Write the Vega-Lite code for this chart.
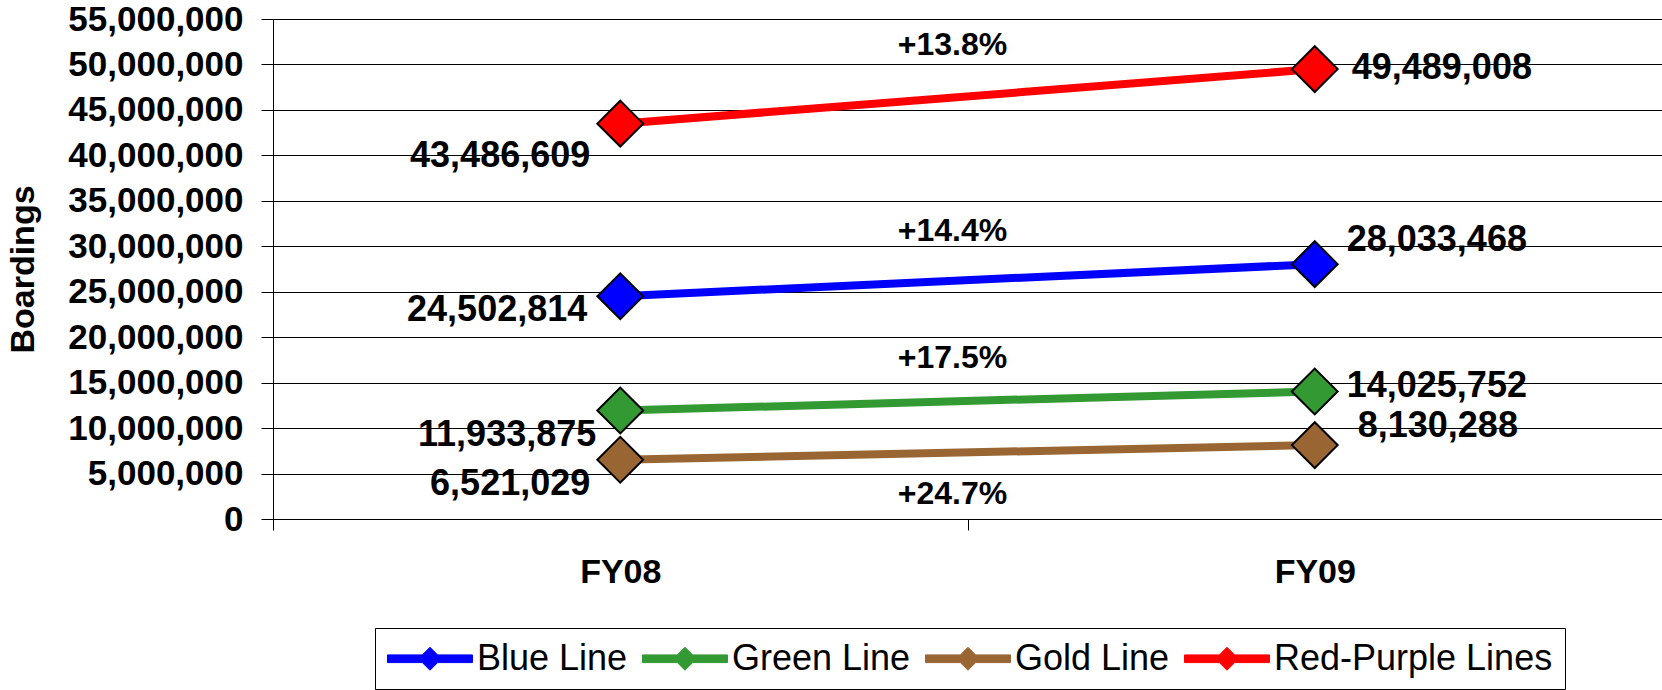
{
  "$schema": "https://vega.github.io/schema/vega-lite/v6.json",
  "width": 1389,
  "height": 500,
  "autosize": "none",
  "padding": {"left": 273, "top": 19, "right": 0, "bottom": 171},
  "config": {
    "font": "Liberation Sans",
    "view": {"stroke": null},
    "background": "white"
  },
  "data": {
    "values": [
      {"line": "Blue Line", "year": "FY08", "boardings": 24502814, "change": "+14.4%"},
      {"line": "Blue Line", "year": "FY09", "boardings": 28033468, "change": "+14.4%"},
      {"line": "Green Line", "year": "FY08", "boardings": 11933875, "change": "+17.5%"},
      {"line": "Green Line", "year": "FY09", "boardings": 14025752, "change": "+17.5%"},
      {"line": "Gold Line", "year": "FY08", "boardings": 6521029, "change": "+24.7%"},
      {"line": "Gold Line", "year": "FY09", "boardings": 8130288, "change": "+24.7%"},
      {"line": "Red-Purple Lines", "year": "FY08", "boardings": 43486609, "change": "+13.8%"},
      {"line": "Red-Purple Lines", "year": "FY09", "boardings": 49489008, "change": "+13.8%"}
    ]
  },
  "encoding": {
    "x": {
      "field": "year",
      "type": "nominal",
      "bandPosition": 0.5,
      "scale": {"type": "band", "paddingInner": 0, "paddingOuter": 0, "domain": ["FY08", "FY09"]},
      "axis": {
        "title": null,
        "labelAngle": 0,
        "labelFontSize": 34,
        "labelFontWeight": "bold",
        "labelColor": "black",
        "labelPadding": 25,
        "tickSize": 11,
        "tickBand": "extent",
        "tickColor": "black",
        "domainColor": "black",
        "grid": false
      }
    },
    "y": {
      "field": "boardings",
      "type": "quantitative",
      "scale": {"domain": [0, 55000000], "nice": false, "zero": true},
      "axis": {
        "title": "Boardings",
        "values": [0, 5000000, 10000000, 15000000, 20000000, 25000000, 30000000, 35000000, 40000000, 45000000, 50000000, 55000000],
        "format": ",d",
        "labelOverlap": false,
        "labelFontSize": 35,
        "labelFontWeight": "bold",
        "labelColor": "black",
        "labelPadding": 18,
        "tickSize": 12,
        "tickColor": "black",
        "domainColor": "black",
        "grid": true,
        "gridColor": "black",
        "gridOpacity": 1,
        "gridWidth": 1,
        "titleFontSize": 34,
        "titleFontWeight": "bold",
        "titleColor": "black",
        "titlePadding": 33
      }
    },
    "color": {
      "field": "line",
      "type": "nominal",
      "scale": {"domain": ["Blue Line", "Green Line", "Gold Line", "Red-Purple Lines"], "range": ["#0000FF", "#339933", "#996633", "#FF0000"]},
      "legend": {
        "title": null,
        "orient": "none",
        "legendX": 102,
        "legendY": 609,
        "direction": "horizontal",
        "strokeColor": "black",
        "fillColor": "white",
        "padding": 12,
        "labelFontSize": 36,
        "labelColor": "black",
        "labelLimit": 400,
        "labelOffset": 53,
        "columnPadding": 12,
        "symbolType": "M-1,-0.214L0.936,-0.214L1.361,-0.639L1.786,-0.214L3.722,-0.214L3.722,0.214L1.786,0.214L1.361,0.639L0.936,0.214L-1,0.214Z",
        "symbolSize": 1296,
        "symbolStrokeWidth": 1,
        "symbolOpacity": 1
      }
    }
  },
  "layer": [
    {
      "mark": {"type": "line", "strokeWidth": 8}
    },
    {
      "mark": {"type": "point", "shape": "diamond", "filled": true, "size": 2100, "stroke": "black", "strokeWidth": 2, "opacity": 1}
    },
    {
      "transform": [{"filter": "datum.year === 'FY08'"}],
      "mark": {
        "type": "text",
        "align": "right",
        "baseline": "middle",
        "fontSize": 36,
        "fontWeight": "bold",
        "fill": "black",
        "dx": {"expr": "datum.line === 'Red-Purple Lines' ? -30 : datum.line === 'Blue Line' ? -33 : datum.line === 'Green Line' ? -24 : -30"},
        "dy": {"expr": "datum.line === 'Red-Purple Lines' ? 32 : datum.line === 'Blue Line' ? 14 : 24"}
      },
      "encoding": {"color": {"value": "black"}, "text": {"field": "boardings", "type": "quantitative", "format": ",d"}}
    },
    {
      "transform": [{"filter": "datum.year === 'FY09'"}],
      "mark": {
        "type": "text",
        "align": "left",
        "baseline": "middle",
        "fontSize": 36,
        "fontWeight": "bold",
        "dx": {"expr": "datum.line === 'Red-Purple Lines' ? 37 : datum.line === 'Gold Line' ? 43 : 32"},
        "dy": {"expr": "datum.line === 'Red-Purple Lines' ? -1 : datum.line === 'Blue Line' ? -24 : datum.line === 'Green Line' ? -5 : -19"}
      },
      "encoding": {"color": {"value": "black"}, "text": {"field": "boardings", "type": "quantitative", "format": ",d"}}
    },
    {
      "transform": [
        {"joinaggregate": [{"op": "mean", "field": "boardings", "as": "avgB"}], "groupby": ["line"]},
        {"filter": "datum.year === 'FY08'"}
      ],
      "mark": {
        "type": "text",
        "align": "center",
        "baseline": "middle",
        "fontSize": 32,
        "fontWeight": "bold",
        "dx": -15,
        "dy": {"expr": "datum.line === 'Red-Purple Lines' ? -51 : datum.line === 'Blue Line' ? -49 : datum.line === 'Green Line' ? -43 : 42"}
      },
      "encoding": {
        "x": {"field": "year", "type": "nominal", "bandPosition": 1},
        "y": {"field": "avgB", "type": "quantitative", "title": "Boardings"},
        "color": {"value": "black"},
        "text": {"field": "change", "type": "nominal"}
      }
    }
  ]
}
